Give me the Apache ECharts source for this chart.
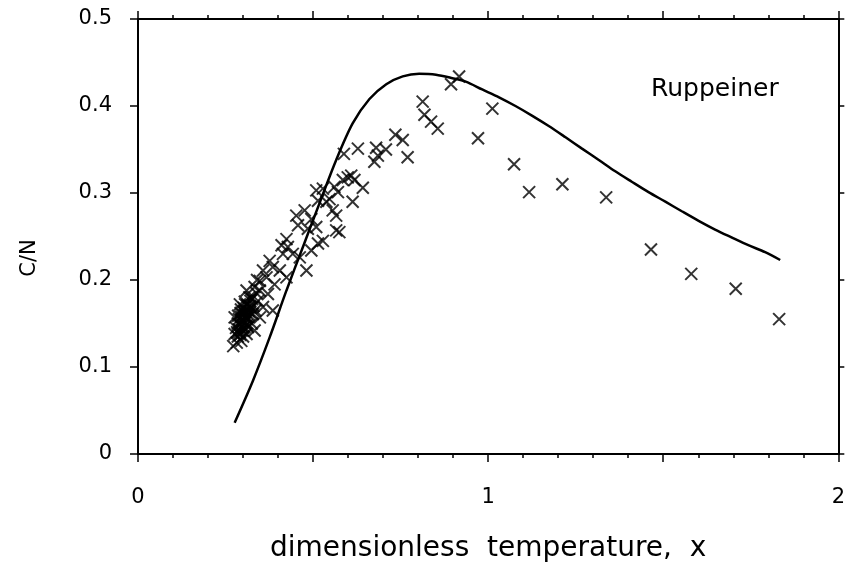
<!DOCTYPE html>
<html>
<head>
<meta charset="utf-8">
<script src="https://cdn.jsdelivr.net/npm/echarts@6/dist/echarts.min.js"></script>
<style>html,body{margin:0;padding:0;background:#fff;}#c{width:848px;height:569px;}</style>
</head>
<body>
<div id="c"></div>
<script>
var curveX = [0.276,0.328,0.376,0.424,0.471,0.519,0.566,0.613,0.661,0.709,0.756,0.803,0.851,0.898,0.936,0.983,1.031,1.078,1.125,1.173,1.221,1.268,1.316,1.363,1.410,1.458,1.506,1.553,1.601,1.648,1.695,1.743,1.791,1.834];
var curveY = [0.036,0.084,0.134,0.188,0.238,0.289,0.338,0.380,0.408,0.425,0.434,0.437,0.436,0.432,0.428,0.419,0.410,0.400,0.389,0.377,0.364,0.351,0.338,0.325,0.313,0.301,0.290,0.279,0.268,0.258,0.249,0.240,0.232,0.223];

var dataX = [0.917,0.894,0.813,0.818,0.837,0.856,0.756,0.770,1.012,0.971,1.074,1.117,1.212,1.337,1.465,1.580,1.707,1.831,
  0.735,0.680,0.685,0.675,0.708,0.628,0.588,0.609,0.585,0.642,0.613,0.571,0.547,0.528,0.599,0.618,0.561,0.509,0.514,0.538,0.556,0.566,0.566,0.575,
  0.452,0.476,0.495,0.457,0.485,0.509,0.528,0.514,0.495,0.481,0.424,0.410,0.428,0.442,0.414,0.462,0.376,0.385,0.405,0.424,0.357,0.367,0.390,0.348,0.333,0.348,0.371,0.385,
  0.310,0.324,0.343,0.357,0.291,0.305,0.328,0.348,0.276,0.291,0.314,0.333,0.276,0.295,0.272,
  0.300,0.310,0.320,0.285,0.290,0.300,0.305,0.315,0.325,0.280,0.285,0.295,0.338,0.330,0.318,0.300,0.282,0.340,0.335,0.310,
  0.298,0.303,0.308,0.312,0.296,0.302,0.307,0.293,0.299,0.288,0.294,0.316,0.321,0.311,0.289,0.306,0.283,0.297,0.313,0.326,0.319,0.292,0.304,0.286,0.322];
var dataY = [0.434,0.425,0.405,0.390,0.382,0.374,0.361,0.341,0.397,0.363,0.333,0.301,0.310,0.295,0.235,0.207,0.190,0.155,
  0.367,0.352,0.343,0.336,0.350,0.351,0.345,0.320,0.315,0.306,0.290,0.301,0.293,0.305,0.318,0.315,0.307,0.303,0.291,0.290,0.280,0.274,0.257,0.255,
  0.274,0.280,0.270,0.263,0.259,0.261,0.245,0.242,0.234,0.211,0.247,0.240,0.238,0.230,0.230,0.226,0.222,0.215,0.211,0.203,0.211,0.203,0.195,0.199,0.192,0.188,0.184,0.165,
  0.188,0.180,0.176,0.169,0.172,0.165,0.161,0.157,0.157,0.149,0.146,0.142,0.138,0.130,0.124,
  0.160,0.155,0.170,0.150,0.140,0.145,0.175,0.165,0.150,0.145,0.135,0.158,0.185,0.170,0.180,0.135,0.128,0.200,0.165,0.138,
  0.152,0.163,0.158,0.171,0.147,0.168,0.151,0.162,0.142,0.155,0.166,0.160,0.176,0.148,0.143,0.172,0.140,0.154,0.157,0.178,0.163,0.137,0.146,0.159,0.168];

var xTickLabels = ['0','1','2'];
var yTickLabels = ['0','0.1','0.2','0.3','0.4','0.5'];

var curve = curveX.map(function(x,i){return [x, curveY[i]];});
var pts = dataX.map(function(x,i){return [x, dataY[i]];});

var font = 'DejaVu Sans';
var axisCommon = {
  min: 0, max: 2, interval: 0.5,
  axisLine: {onZero:false, lineStyle:{color:'#000', width:2}},
  axisTick: {inside:false, length:8, lineStyle:{color:'#000', width:1.5}},
  minorTick: {show:true, splitNumber:5, length:4, lineStyle:{color:'#000', width:1.5}},
  splitLine: {show:false}
};
var chart = echarts.init(document.getElementById('c'));
chart.setOption({
  animation:false,
  backgroundColor:'#fff',
  grid:{left:138, right:8, top:19, bottom:115},
  xAxis:[
    Object.assign({}, axisCommon, {type:'value', position:'bottom',
      name:'dimensionless  temperature,  x', nameLocation:'middle', nameGap:81,
      nameTextStyle:{fontFamily:font, fontSize:28, color:'#000'},
      axisLabel:{margin:33, fontFamily:font, fontSize:21, color:'#000',
        formatter:function(v){ var s=String(Math.round(v)); return (Math.abs(v-Math.round(v))<1e-6 && xTickLabels.indexOf(s)>=0)?s:''; }}}),
    Object.assign({}, axisCommon, {type:'value', position:'top', axisLabel:{show:false}})
  ],
  yAxis:[
    {type:'value', position:'left', min:0, max:0.5, interval:0.1,
      axisLine:{onZero:false, lineStyle:{color:'#000', width:2}},
      axisTick:{inside:false, length:8, lineStyle:{color:'#000', width:1.5}},
      splitLine:{show:false},
      axisLabel:{margin:26, fontFamily:font, fontSize:21, color:'#000',
        formatter:function(v){ return yTickLabels[Math.round(v*10)]; }}},
    {type:'value', position:'right', min:0, max:0.5, interval:0.1,
      axisLine:{onZero:false, lineStyle:{color:'#000', width:2}},
      axisTick:{inside:false, length:6, lineStyle:{color:'#000', width:1.5}},
      splitLine:{show:false}, axisLabel:{show:false}}
  ],
  graphic:[
    {type:'text', left:651, top:77, style:{text:'Ruppeiner', fontFamily:font, fontSize:25, fill:'#000'}},
    {type:'text', x:30, y:258, rotation:Math.PI/2, style:{text:'C/N', fontFamily:font, fontSize:21, fill:'#000', align:'center', verticalAlign:'middle'}}
  ],
  series:[
    {type:'line', data:curve, smooth:0.3, showSymbol:false, lineStyle:{color:'#000', width:2.5}, z:2},
    {type:'scatter', data:pts, symbol:'path://M0,0L10,10M10,0L0,10', symbolSize:12,
      itemStyle:{color:'none', borderColor:'#000', borderWidth:2}, z:3}
  ]
});
</script>
</body>
</html>
